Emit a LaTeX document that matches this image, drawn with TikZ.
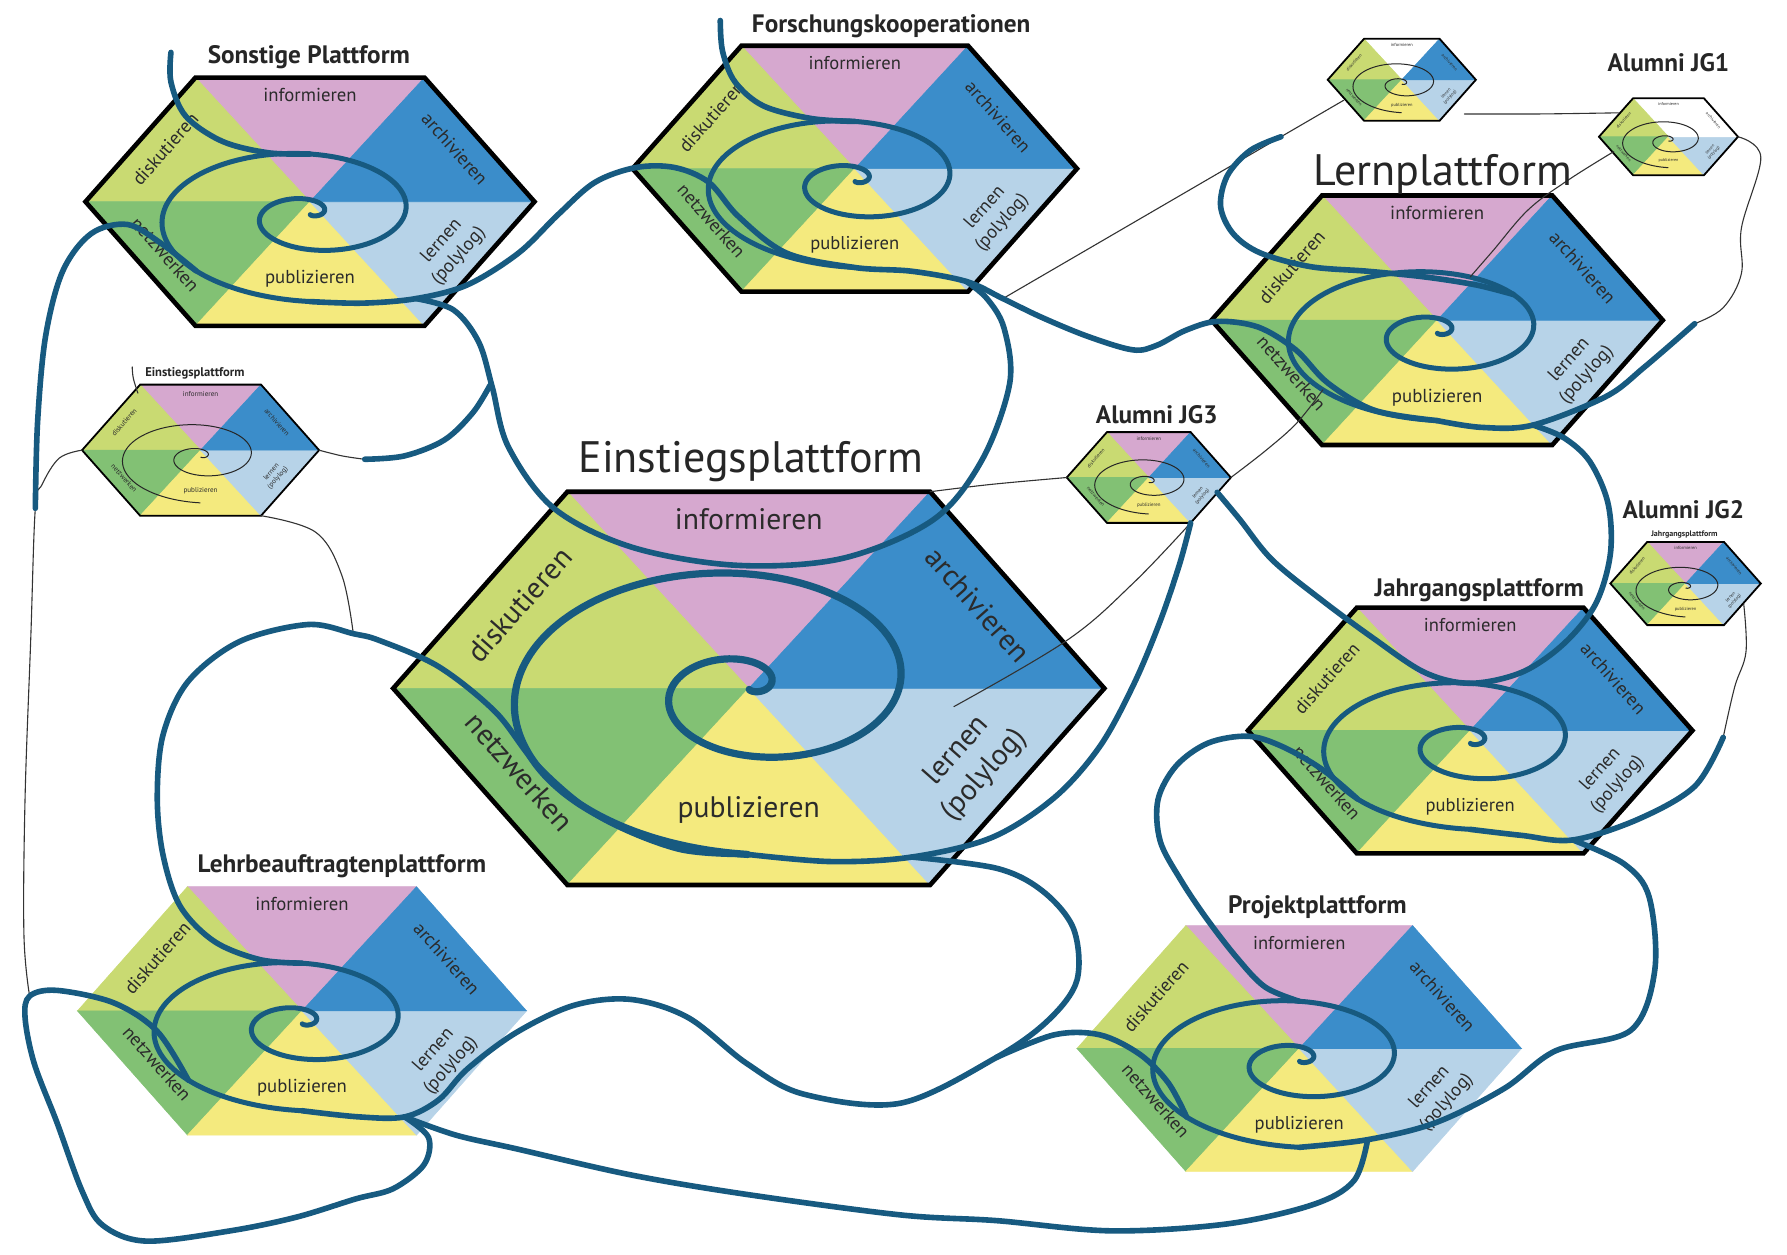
\documentclass[tikz,border=0pt]{standalone}
\usepackage{fontspec}
\setmainfont{PT Sans}
\usetikzlibrary{calc}
\definecolor{cPink}{HTML}{D6A8CF}
\definecolor{cLime}{HTML}{C9DA72}
\definecolor{cGreen}{HTML}{82C174}
\definecolor{cYellow}{HTML}{F4EA7E}
\definecolor{cLBlue}{HTML}{B7D3E8}
\definecolor{cBlue}{HTML}{3B8DCA}
\definecolor{spir}{HTML}{175A80}
\definecolor{labc}{HTML}{2B2B2B}
\newcommand\spSY{0.5}
\newcommand\spOFF{0.1}
\newcommand\labF{0.0475}
% #1 name #2 cx #3 cy #4 half width #5 outline style #6 top colour #7 top-right colour #8 spiral style
\newcommand\hexplat[8]{%
 \begin{scope}[shift={(#2,#3)}]
  \pgfmathsetmacro\hw{#4}%
  \pgfmathsetmacro\hh{0.553*#4}%
  \pgfmathsetmacro\hT{0.51*#4}%
  \pgfmathsetmacro\kk{0.029*#4}%
  \pgfmathsetmacro\off{\spOFF*\hh}%
  \pgfmathsetmacro\fs{\labF*#4}%
  \pgfmathsetmacro\fb{1.22*\fs}%
  \coordinate (#1) at (0,0);
  \coordinate (#1-L) at (-\hw,0);
  \coordinate (#1-TL) at (-\hT,-\hh);
  \coordinate (#1-TR) at (\hT,-\hh);
  \coordinate (#1-R) at (\hw,0);
  \coordinate (#1-BR) at (\hT,\hh);
  \coordinate (#1-BL) at (-\hT,\hh);
  \filldraw[fill=#6,draw=#6,line width=0.3pt] (0,0) -- (#1-TL) -- (#1-TR) -- cycle;
  \filldraw[fill=cLime,draw=cLime,line width=0.3pt] (0,0) -- (#1-L) -- (#1-TL) -- cycle;
  \filldraw[fill=cGreen,draw=cGreen,line width=0.3pt] (0,0) -- (#1-BL) -- (#1-L) -- cycle;
  \filldraw[fill=cYellow,draw=cYellow,line width=0.3pt] (0,0) -- (#1-BL) -- (#1-BR) -- cycle;
  \filldraw[fill=cLBlue,draw=cLBlue,line width=0.3pt] (0,0) -- (#1-BR) -- (#1-R) -- cycle;
  \filldraw[fill=#7,draw=#7,line width=0.3pt] (0,0) -- (#1-R) -- (#1-TR) -- cycle;
  \draw[#5] (#1-L) -- (#1-TL) -- (#1-TR) -- (#1-R) -- (#1-BR) -- (#1-BL) -- cycle;
  \begin{scope}[every node/.style={lab,font=\fontsize{\fs pt}{\fb pt}\selectfont}]
   \node (#1-inf) at (0,{-0.86*\hh}) {informieren};
   \node (#1-pub) at (0,{0.62*\hh}) {publizieren};
   \node[rotate=48.5] (#1-dis) at ({-0.645*\hw},{-0.235*\hw}) {diskutieren};
   \node[rotate=-48.5] (#1-arc) at ({0.645*\hw},{-0.235*\hw}) {archivieren};
   \node[rotate=-48.5] (#1-net) at ({-0.645*\hw},{0.235*\hw}) {netzwerken};
   \node[rotate=48.5,align=center] (#1-ler) at ({0.625*\hw},{0.21*\hw}) {lernen\\(polylog)};
  \end{scope}
  \draw[#8] plot[domain=0.25:12.566, samples=170, smooth, variable=\t]
    ({\kk*pow(\t,1.3)*cos(deg(\t)-90)}, {\off-\spSY*\kk*pow(\t,1.3)*sin(deg(\t)-90)});
  \coordinate (#1-top2) at (0,{\off-\spSY*\kk*18.47});
  \coordinate (#1-tr2) at ({11.67*\kk},{\off-\spSY*11.67*\kk});
  \coordinate (#1-left2) at ({-22.57*\kk},{\off});
  \coordinate (#1-bl2) at ({-17.46*\kk},{\off+\spSY*17.46*\kk});
  \coordinate (#1-se) at (0,{\off+\spSY*26.85*\kk});
 \end{scope}}
\begin{document}
\begin{tikzpicture}[x=0.02cm,y=-0.02cm,
 conn/.style={draw=spir, line width=2.8pt, line cap=round, line join=round},
 sp/.style={draw=spir, line width=2.5pt, line cap=round},
 spbig/.style={draw=spir, line width=3.6pt, line cap=round},
 spthin/.style={draw=black!85, line width=0.5pt},
 thinl/.style={draw=black!80, line width=0.55pt, line cap=round},
 olthick/.style={draw=black, line width=2.3pt, line join=miter},
 olthin/.style={draw=black, line width=0.9pt, line join=miter},
 olnone/.style={draw=none},
 lab/.style={text=labc, inner sep=0pt},
 ttl/.style={text=black!85, inner sep=0pt},
 ttlm/.style={ttl, font=\bfseries\fontsize{12.6pt}{13pt}\selectfont},
 ttlb/.style={ttl, font=\fontsize{22pt}{24pt}\selectfont}]
\fill[white] (0,0) rectangle (1568,1101);
\useasboundingbox (0,0) rectangle (1568,1101);

% ---------- platforms ----------
\renewcommand\spSY{0.5}\renewcommand\spOFF{0.1}
\hexplat{Son}{272}{177}{197}{olthick}{cPink}{cBlue}{sp}
\hexplat{For}{750}{148}{195}{olthick}{cPink}{cBlue}{sp}
\hexplat{Lrn}{1261}{281}{198}{olthick}{cPink}{cBlue}{sp}
\hexplat{Jg}{1290}{641}{195}{olthick}{cPink}{cBlue}{sp}
\hexplat{Leh}{265}{887}{197}{olnone}{cPink}{cBlue}{sp}
\hexplat{Prj}{1140}{920}{195}{olnone}{cPink}{cBlue}{sp}
\renewcommand\labF{0.034}
\hexplat{sE}{176}{395}{104}{olthin}{cPink}{cBlue}{spthin}
\hexplat{J3}{1008}{419}{72}{olthin}{cPink}{cBlue}{spthin}
\hexplat{tS}{1230}{70}{65}{olthin}{white}{cBlue}{spthin}
\hexplat{J1}{1464}{120}{61}{olthin}{white}{white}{spthin}
\hexplat{J2}{1479}{512}{66}{olthin}{cPink}{cBlue}{spthin}
\renewcommand\labF{0.0475}
\renewcommand\spSY{0.6}\renewcommand\spOFF{0}
\hexplat{Ein}{657}{604}{312}{olthick}{cPink}{cBlue}{spbig}

% ---------- junction / free-end coordinates ----------
\coordinate (sTail) at (150,46);
\coordinate (sonFree) at (31,446);
\coordinate (sonBR) at (365,262);
\coordinate (forJ) at (848,247);
\coordinate (fTail) at (632,18);
\coordinate (sEjoin) at (320,403);
\coordinate (sEk) at (310,556);
\coordinate (sEtt) at (116,322);
\coordinate (lehJ) at (355,980);
\coordinate (lehLoop) at (26,874);
\coordinate (k10j) at (874,928);
\coordinate (k8j) at (800,752);
\coordinate (prjJ) at (1200,1000);
\coordinate (jgJ) at (1380,737);
\coordinate (jgFree) at (1512,647);
\coordinate (lrnJ) at (1345,373);
\coordinate (lrnFree) at (1487,284);
\coordinate (j3out) at (1068,432);
\coordinate (tSa) at (1179,88);
\coordinate (tSj) at (1124,120);
\coordinate (forT) at (880,262);
\coordinate (tSb) at (1285,100);
\coordinate (J1a) at (1420,99);
\coordinate (J1b) at (1416,133);
\coordinate (lrnIn) at (1290,243);
\coordinate (J2a) at (1530,530);
\coordinate (einIn) at (837,620);

% ---------- thin connectors ----------
\draw[thinl] plot[smooth,tension=0.6] coordinates {(sE-L) (52,402) (37,425) (sonFree) (27,560) (22,700) (21,820) (lehLoop)};
\draw[thinl] plot[smooth,tension=0.6] coordinates {(sE-R) (300,400) (sEjoin)};
\draw[thinl] plot[smooth,tension=0.6] coordinates {(sE-BR) (277,467) (300,505) (sEk)};
\draw[thinl] plot[smooth,tension=0.6] coordinates {(sEtt) (117,332) (121,345)};
\draw[thinl] plot[smooth,tension=0.6] coordinates {(Ein-TR) (870,425) (J3-L)};
\draw[thinl] plot[smooth,tension=0.6] coordinates {(J3-BR) (994,512) (936,562) (einIn)};
\draw[thinl] plot[smooth,tension=0.6] coordinates {(J3-R) (1111,395) (1138,371) (Lrn-bl2)};
\draw[thinl] (tSa) -- (tSj) -- (forT);
\draw[thinl] plot[smooth,tension=0.6] coordinates {(tSb) (1350,100) (J1a)};
\draw[thinl] plot[smooth,tension=0.6] coordinates {(J1b) (1376,158) (1341,184) (1310,220) (lrnIn)};
\draw[thinl] plot[smooth,tension=0.6] coordinates {(J1-R) (1545,138) (1528,200) (1528,240) (1512,270) (lrnFree)};
\draw[thinl] plot[smooth,tension=0.6] coordinates {(jgFree) (1522,603) (1532,572) (J2a)};

% ---------- thick connectors ----------
\draw[conn] plot[smooth,tension=0.55] coordinates {(sTail) (150,72) (163,102) (195,124) (235,134) (Son-top2)};
\draw[conn] plot[smooth,tension=0.55] coordinates {(sonFree) (33,370) (40,295) (55,238) (80,205) (112,197) (142,214) (Son-bl2)};
\draw[conn] plot[smooth,tension=0.55] coordinates {(Son-se) (318,266) (sonBR) (410,250) (455,222) (490,188) (522,160) (558,147) (592,147) (622,160) (648,190) (690,222) (For-se) (800,238) (forJ) (880,262) (913,278) (954,295) (994,307) (1015,303) (1040,290) (1068,282) (1104,287) (1137,307) (1165,336) (1206,360) (Lrn-se)};
\draw[conn] plot[smooth,tension=0.55] coordinates {(Lrn-se) (1300,375) (lrnJ) (1409,348) (1443,322) (lrnFree)};
\draw[conn] plot[smooth,tension=0.55] coordinates {(sonBR) (398,272) (420,300) (432,340) (446,392) (486,446) (554,480) (646,496) (739,490) (819,456) (862,403) (886,336) (881,288) (866,262) (forJ)};
\draw[conn] plot[smooth,tension=0.55] coordinates {(sEjoin) (355,400) (390,386) (415,362) (430,338)};
\draw[conn] plot[smooth,tension=0.55] coordinates {(fTail) (634,45) (645,72) (670,93) (712,104) (For-top2)};
\draw[conn] plot[smooth,tension=0.55] coordinates {(Leh-top2) (228,842) (188,826) (158,795) (143,750) (138,700) (143,645) (165,598) (210,563) (270,548) (sEk) (333,562) (385,585) (435,625) (472,672) (525,716) (595,745) (Ein-se)};
\draw[conn] plot[smooth,tension=0.55] coordinates {(Ein-se) (730,756) (k8j) (870,735) (925,700) (965,655) (995,600) (1018,545) (1035,495) (J3-BR)};
\draw[conn] plot[smooth,tension=0.55] coordinates {(Leh-se) (315,980) (lehJ) (385,965) (410,938) (453,906) (504,882) (554,877) (604,893) (655,933) (705,960) (790,968) (k10j) (920,895) (945,860) (942,815) (915,782) (875,762) (k8j)};
\draw[conn] plot[smooth,tension=0.55] coordinates {(k10j) (925,908) (965,908) (1000,925) (1025,950) (Prj-bl2)};
\draw[conn] plot[smooth,tension=0.55] coordinates {(lehJ) (376,998) (372,1022) (345,1043) (312,1052) (260,1068) (202,1080) (128,1089) (90,1075) (72,1045) (50,985) (30,933) (22,893) (lehLoop) (50,869) (100,880) (138,905) (Leh-bl2)};
\draw[conn] plot[smooth,tension=0.55] coordinates {(lehJ) (400,996) (453,1008) (554,1031) (655,1048) (790,1066) (874,1071) (975,1080) (1076,1074) (1152,1057) (1188,1036) (prjJ)};
\draw[conn] plot[smooth,tension=0.55] coordinates {(Prj-se) (prjJ) (1260,985) (1320,955) (1365,922) (1431,904) (1452,851) (1447,787) (1425,758) (jgJ)};
\draw[conn] plot[smooth,tension=0.55] coordinates {(Jg-se) (1335,733) (jgJ) (1437,719) (1487,690) (jgFree)};
\draw[conn] plot[smooth,tension=0.55] coordinates {(Jg-bl2) (1160,675) (1125,655) (1095,646) (1060,652) (1032,672) (1016,702) (1018,738) (1036,772) (1058,805) (1085,840) (1110,866) (Prj-top2)};
\draw[conn] plot[smooth,tension=0.55] coordinates {(j3out) (1088,456) (1116,491) (1159,526) (1205,560) (1250,590) (Jg-top2) (1335,590) (1372,565) (1400,530) (1413,486) (1411,442) (1395,405) (1372,384) (lrnJ)};
\draw[conn] plot[smooth,tension=0.55] coordinates {(tSj) (1097,132) (1077,154) (1071,181) (1082,205) (1106,222) (1150,234) (1200,238) (1250,243) (1295,250) (Lrn-tr2)};

% ---------- titles ----------
\node[ttlm] (tSon) at (271,50) {Sonstige Plattform};
\node[ttlm] (tFor) at (782,23) {Forschungskooperationen};
\node[ttl,font=\bfseries\fontsize{6.3pt}{7pt}\selectfont] (tsE) at (171,328) {Einstiegsplattform};
\node[ttlb] (tEin) at (659,405) {Einstiegsplattform};
\node[ttlm] (tJ3) at (1015,364) {Alumni JG3};
\node[ttlm] (tJ1) at (1464,55) {Alumni JG1};
\node[ttlb] (tLrn) at (1266,153) {Lernplattform};
\node[ttlm] (tJ2) at (1477,447) {Alumni JG2};
\node[ttl,font=\bfseries\fontsize{4pt}{4.5pt}\selectfont] (tJ2s) at (1478,469) {Jahrgangsplattform};
\node[ttlm] (tJg) at (1298,518) {Jahrgangsplattform};
\node[ttlm] (tLeh) at (300,760) {Lehrbeauftragtenplattform};
\node[ttlm] (tPrj) at (1156,796) {Projektplattform};
\end{tikzpicture}
\end{document}
